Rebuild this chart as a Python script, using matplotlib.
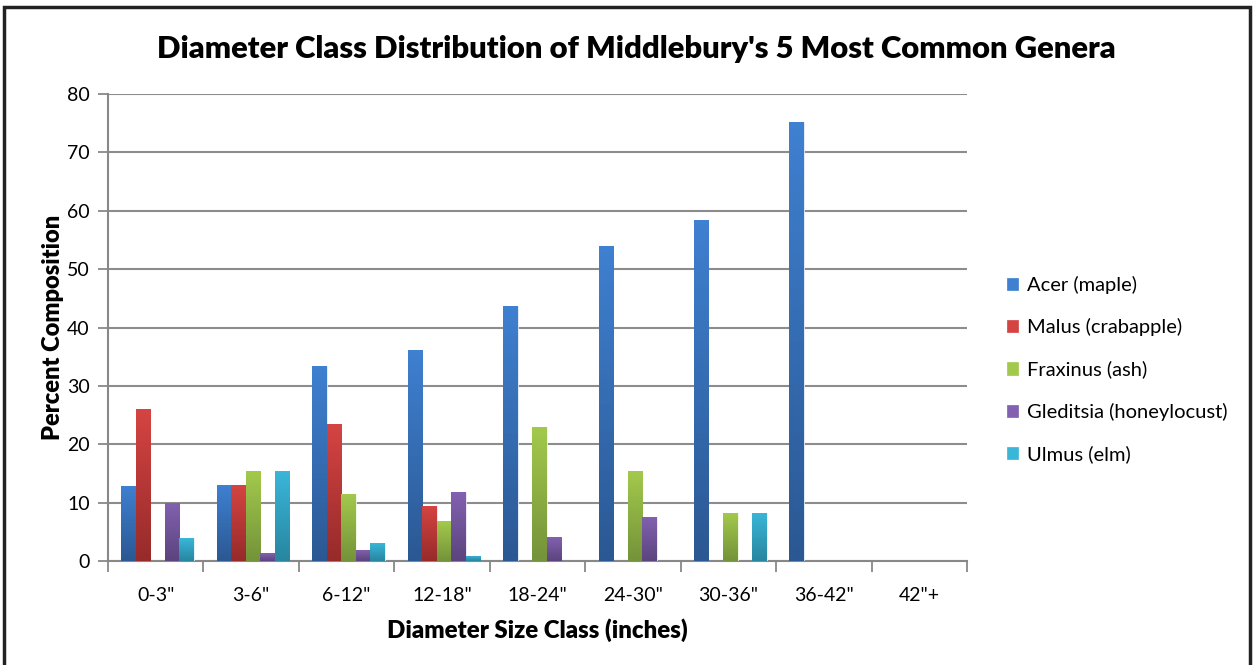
import numpy as np
import matplotlib.pyplot as plt
from matplotlib.colors import LinearSegmentedColormap
from matplotlib.patches import Rectangle

plt.rcParams['font.family'] = ['Lato', 'DejaVu Sans']

classes = ['0-3"', '3-6"', '6-12"', '12-18"', '18-24"', '24-30"', '30-36"', '36-42"', '42"+']
genera = ['Acer (maple)', 'Malus (crabapple)', 'Fraxinus (ash)',
          'Gleditsia (honeylocust)', 'Ulmus (elm)']

acer = [12.9, 13.0, 33.4, 36.1, 43.7, 53.9, 58.5, 75.2, 0]
malus = [26.0, 13.0, 23.4, 9.4, 0, 0, 0, 0, 0]
fraxinus = [0, 15.4, 11.5, 6.8, 22.9, 15.4, 8.3, 0, 0]
gleditsia = [10.0, 1.3, 1.9, 11.8, 4.1, 7.6, 0, 0, 0]
ulmus = [3.9, 15.4, 3.0, 0.9, 0, 0, 8.3, 0, 0]
series = [acer, malus, fraxinus, gleditsia, ulmus]

# top colour, bottom colour of each bar's gradient
top_colors = ['#3f80d0', '#d44442', '#a3c94c', '#8261b0', '#3ab6d8']
bottom_colors = ['#2b5893', '#962b2a', '#74933a', '#5c447e', '#2886a0']

fig = plt.figure(figsize=(12.55, 6.65), dpi=100)
ax = fig.add_axes([0.086, 0.1564, 0.6845, 0.7022])

x = np.arange(len(classes))
w = 0.152
for i, (vals, name) in enumerate(zip(series, genera)):
    pos = x + (i - 2) * w + 0.02
    bars = ax.bar(pos, vals, w, color=top_colors[i], label=name, zorder=3,
                  edgecolor='white', linewidth=0.5)
    cmap = LinearSegmentedColormap.from_list('g', [bottom_colors[i], top_colors[i]])
    grad = np.linspace(0, 1, 64).reshape(-1, 1)
    for b in bars:
        h = b.get_height()
        if h <= 0:
            continue
        bx = b.get_x()
        im = ax.imshow(grad, cmap=cmap, origin='lower', aspect='auto',
                       extent=(bx, bx + b.get_width(), 0, h), zorder=3.5)
        im.set_clip_path(b)

ax.set_xlim(-0.5, len(classes) - 0.5)
ax.set_ylim(0, 80)
ax.set_yticks(np.arange(0, 81, 10))
ax.set_xticks(x)
ax.set_xticklabels(classes)
ax.set_xticks(np.arange(-0.5, len(classes), 1), minor=True)
ax.tick_params(axis='x', which='major', length=0, pad=19, labelsize=14)
ax.tick_params(axis='x', which='minor', length=8, color='#888888', width=1.3)
ax.tick_params(axis='y', length=7, color='#888888', width=1.3, labelsize=14, pad=6)

ax.grid(axis='y', color='#8c8c8c', linewidth=1.5, zorder=0)
for s in ['top', 'right']:
    ax.spines[s].set_visible(False)
for s in ['left', 'bottom']:
    ax.spines[s].set_color('#888888')
    ax.spines[s].set_linewidth(1.5)

ax.set_xlabel('Diameter Size Class (inches)', fontsize=17.3, fontweight='heavy', labelpad=10)
ax.set_ylabel('Percent Composition', fontsize=17, fontweight='heavy', labelpad=2)
fig.suptitle("Diameter Class Distribution of Middlebury's 5 Most Common Genera",
             x=0.507, y=0.947, fontsize=22.3, fontweight='heavy')

leg = ax.legend(loc='center left', bbox_to_anchor=(1.025, 0.41), frameon=False,
                fontsize=14.5, handlelength=0.55, handleheight=0.55,
                handletextpad=0.45, labelspacing=1.2)
for h, c in zip(leg.legend_handles, top_colors):
    h.set_color(c)

fig.patches.append(Rectangle((0.003, -0.01), 0.993, 1.0, transform=fig.transFigure,
                             fill=False, edgecolor='#222222', linewidth=2.5))

fig.savefig('out.png', dpi=100)
